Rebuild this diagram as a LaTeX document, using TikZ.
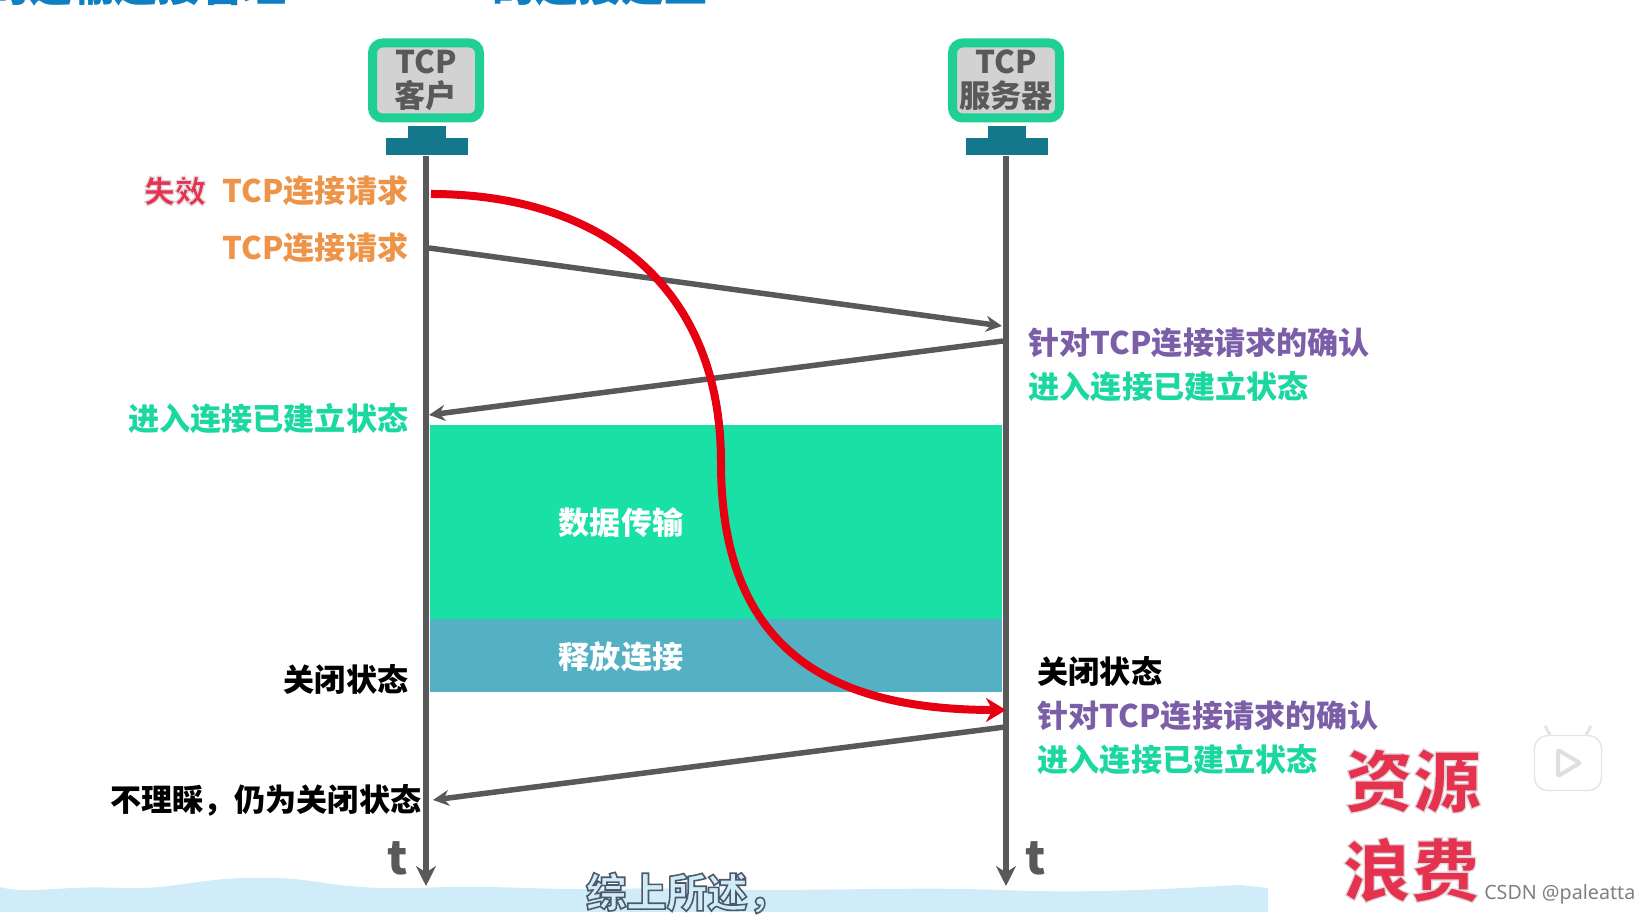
\documentclass[tikz,border=0pt]{standalone}
\usepackage{xcolor}
\usepackage{fontspec}
\setmainfont{Noto Sans CJK SC}
\newfontfamily\wmfont{Noto Sans}
\usetikzlibrary{arrows.meta, positioning, calc}
\definecolor{linegray}{HTML}{595959}
\definecolor{boxgreen}{HTML}{1FCF96}
\definecolor{basegreen}{HTML}{14788C}
\definecolor{datagreen}{HTML}{19E0A5}
\definecolor{relblue}{HTML}{54B1C4}
\definecolor{reqorange}{HTML}{EE9448}
\definecolor{ackpurple}{HTML}{7B5EA7}
\definecolor{estgreen}{HTML}{1AD8A0}
\definecolor{waste}{HTML}{E5334F}
\definecolor{wave}{HTML}{CFECF8}
\definecolor{titleblue}{HTML}{0F7FC4}
\definecolor{lostred}{HTML}{E60012}
\newcommand{\outlined}[3]{\special{pdf:code 2 Tr #1 w #2 RG}#3\special{pdf:code 0 Tr}}

\begin{document}
\begin{tikzpicture}[
    every node/.style={font=\fontsize{8.85}{10}\selectfont\bfseries, inner sep=0pt},
    host/.style={rectangle, draw=boxgreen, line width=0.09cm, rounded corners=0.1cm, fill=gray!35, minimum width=1.07cm, minimum height=0.75cm, align=center, text=linegray, font=\fontsize{8.9}{9.6}\selectfont\bfseries},
    stem/.style={rectangle, fill=basegreen, minimum width=0.38cm, minimum height=0.14cm},
    foot/.style={rectangle, fill=basegreen, minimum width=0.82cm, minimum height=0.17cm},
    req/.style={text=reqorange, anchor=east},
    ack/.style={text=ackpurple, anchor=west},
    est/.style={text=estgreen},
    state/.style={text=black},
    band/.style={rectangle, minimum width=5.72cm, anchor=north west},
    life/.style={linegray, line width=0.065cm, -{Stealth[length=0.2cm, width=0.2cm]}},
    msg/.style={linegray, line width=0.055cm, -{Stealth[length=0.16cm, width=0.16cm]}},
    lost/.style={lostred, line width=0.08cm, -{Stealth[length=0.2cm, width=0.24cm]}},
    big/.style={text=waste, font=\fontsize{19.4}{20}\selectfont\bfseries}
]
\useasboundingbox (0,0) rectangle (16.5,-9.16);

% Wave at the foot of the page
\fill[wave] (0,-9.12) -- (0,-8.87) .. controls (0.3,-8.95) and (0.6,-8.85) .. (1.2,-8.88)
    .. controls (1.8,-8.9) and (2.0,-8.76) .. (2.7,-8.78) .. controls (3.2,-8.78) and (3.3,-8.9) .. (4.2,-8.88)
    .. controls (5,-8.84) and (5.5,-8.92) .. (6.5,-8.88) .. controls (8,-8.93) and (9,-8.86) .. (10,-8.9)
    .. controls (11,-8.94) and (11.8,-8.88) .. (12.4,-8.85) -- (12.68,-8.88) -- (12.68,-9.12) -- cycle;

% Title, cut by the top edge
\node[text=titleblue, font=\fontsize{12.2}{13}\selectfont\bfseries, anchor=base east] (tleft) at (2.87,-0.02) {TCP的运输连接管理};
\node[text=titleblue, font=\fontsize{12.2}{13}\selectfont\bfseries, anchor=base east] (tright) at (7.08,-0.02) {的连接建立};

% Hosts
\node[host] (client) at (4.26,-0.805) {TCP\\客户};
\node[host] (server) at (10.06,-0.805) {TCP\\服务器};
\node[stem] (cstem) at (4.27,-1.33) {};
\node[stem] (sstem) at (10.07,-1.33) {};
\node[foot] (cfoot) at (4.27,-1.465) {};
\node[foot] (sfoot) at (10.07,-1.465) {};

% Data and release bands
\node[band, fill=datagreen, minimum height=1.94cm] (data) at (4.29,-4.24) {};
\node[band, fill=relblue, minimum height=0.73cm] (rel) at (4.29,-6.18) {};
\node[text=white] (datatxt) at (6.21,-5.23) {数据传输};
\node[text=white] (reltxt) at (6.21,-6.57) {释放连接};

% Time axes
\coordinate (cend) at (4.26,-8.86);
\coordinate (send) at (10.06,-8.86);
\draw[life] (cfoot.south -| cend) -- (cend);
\draw[life] (sfoot.south -| send) -- (send);
\node[text=linegray, font=\fontsize{13}{14}\selectfont\bfseries] (tc) at (3.98,-8.58) {t};
\node[text=linegray, font=\fontsize{13}{14}\selectfont\bfseries] (ts) at (10.36,-8.58) {t};

% Messages
\coordinate (m1a) at (4.29,-2.48);
\coordinate (m1b) at (10.02,-3.26);
\coordinate (m2a) at (10.03,-3.41);
\coordinate (m2b) at (4.29,-4.15);
\coordinate (m3a) at (10.05,-7.27);
\coordinate (m3b) at (4.33,-8.0);
\draw[msg] (m1a) -- (m1b);
\draw[msg] (m2a) -- (m2b);
\draw[msg] (m3a) -- (m3b);

% Delayed request
\coordinate (r0) at (4.31,-1.94);
\coordinate (r1) at (7.21,-4.6);
\coordinate (r2) at (10.06,-7.1);
\draw[lost] (r0) .. controls (6.0,-1.94) and (7.2,-2.85) .. (r1) .. controls (7.2,-6.5) and (8.3,-7.1) .. (r2);

% Left labels
\node[text=waste] (lost) at (1.75,-1.91) {\outlined{0.35}{0.88 0.83 0.85}{失效}};
\node[req] (req1) at (4.09,-1.905) {TCP连接请求};
\node[req] (req2) at (4.09,-2.48) {TCP连接请求};
\node[est, anchor=east] (estc) at (4.09,-4.19) {进入连接已建立状态};
\node[state, anchor=east] (closec) at (4.09,-6.79) {关闭状态};
\node[state, anchor=east] (ignore) at (4.22,-8.0) {不理睬，仍为关闭状态};

% Right labels
\node[ack] (ack1) at (10.28,-3.43) {针对TCP连接请求的确认};
\node[est, anchor=west] (ests1) at (10.28,-3.87) {进入连接已建立状态};
\node[state, anchor=west] (closes) at (10.37,-6.71) {关闭状态};
\node[ack] (ack2) at (10.37,-7.16) {针对TCP连接请求的确认};
\node[est, anchor=west] (ests2) at (10.37,-7.6) {进入连接已建立状态};

% Overlays
\node[big] (res) at (14.13,-7.81) {\outlined{0.35}{0.88 0.83 0.85}{资源}};
\node[big] (wst) at (14.11,-8.7) {\outlined{0.35}{0.88 0.83 0.85}{浪费}};
\node[font=\fontsize{11.5}{14}\selectfont\bfseries, text=wave] (sub) at (6.87,-8.93) {\outlined{0.45}{0.3 0.35 0.42}{综上所述，}};
\node[text=gray, font=\fontsize{5.6}{7}\selectfont\wmfont\mdseries, anchor=east] (mark) at (16.36,-8.94) {CSDN @paleatta};

% Player icon
\node[rectangle, draw=gray!20, fill=white, rounded corners=0.13cm, minimum width=0.67cm, minimum height=0.55cm] (play) at (15.68,-7.63) {};
\draw[gray!20, line width=0.03cm] ($(play.north)+(-0.18,0)$) -- ++(-0.05,0.09);
\draw[gray!20, line width=0.03cm] ($(play.north)+(0.18,0)$) -- ++(0.05,0.09);
\draw[gray!25, fill=white, line width=0.04cm, rounded corners=0.02cm] ($(play.center)+(-0.1,0.13)$) -- ($(play.center)+(0.12,0)$) -- ($(play.center)+(-0.1,-0.13)$) -- cycle;

\end{tikzpicture}
\end{document}
